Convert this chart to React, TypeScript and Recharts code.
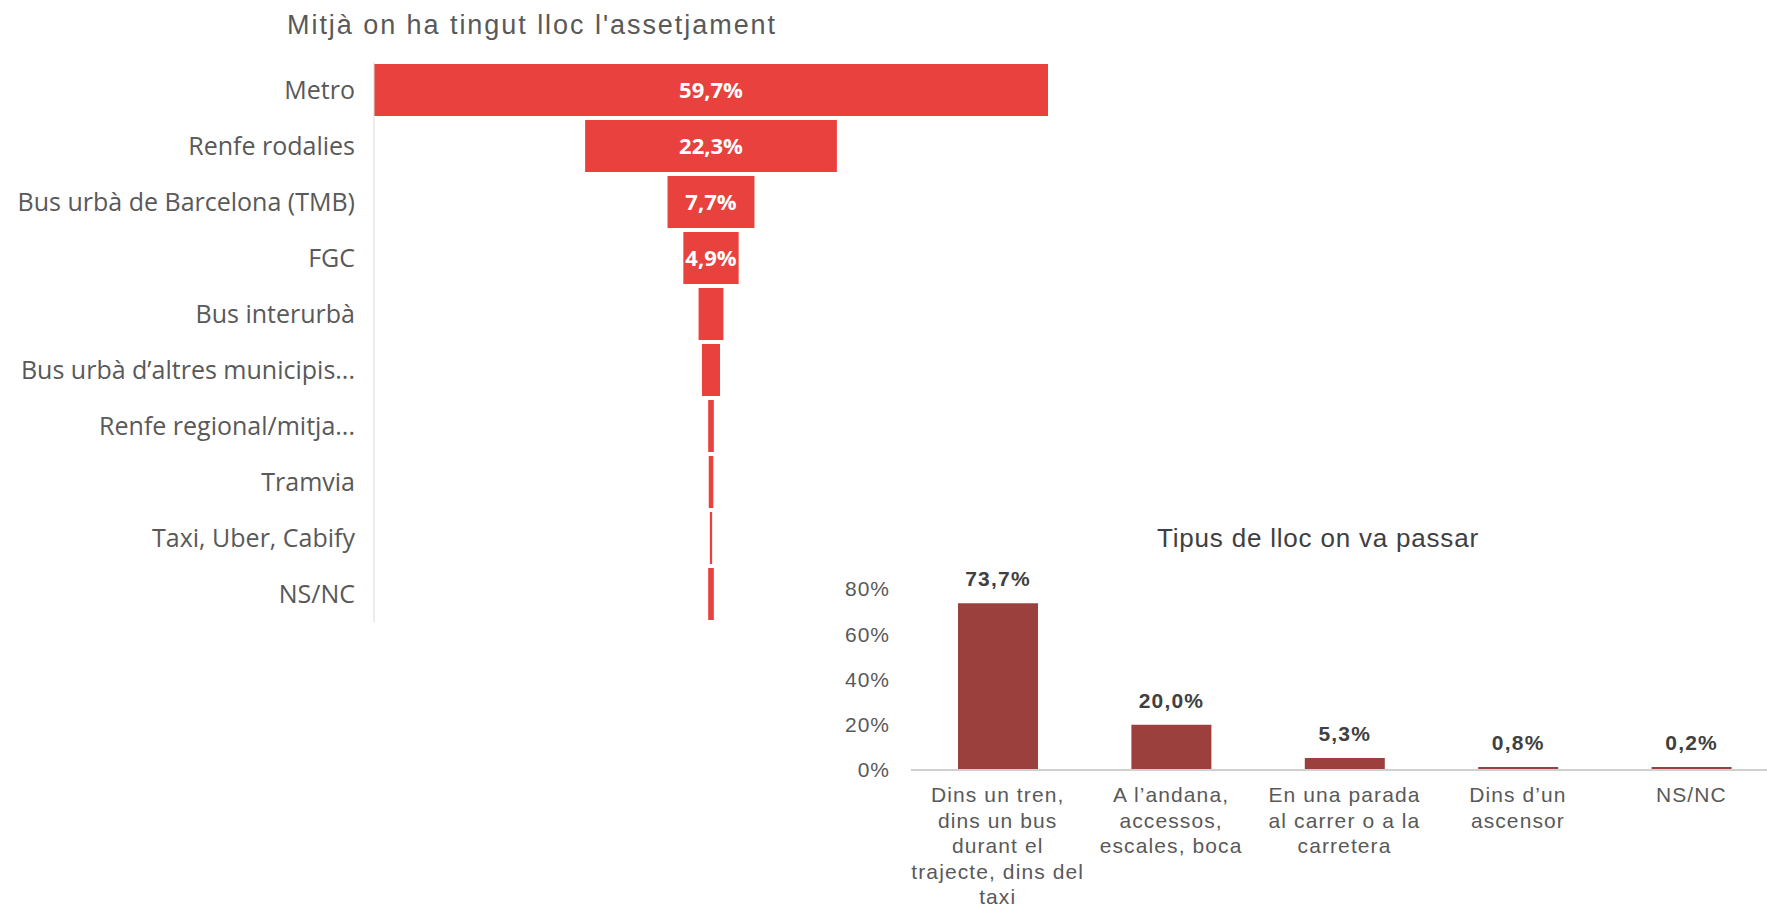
import React from "react";
import { BarChart, Bar, XAxis, YAxis, LabelList } from "recharts";

// Mitjà on ha tingut lloc l'assetjament
const funnelCategories = [
  "Metro",
  "Renfe rodalies",
  "Bus urbà de Barcelona (TMB)",
  "FGC",
  "Bus interurbà",
  "Bus urbà d’altres municipis...",
  "Renfe regional/mitja...",
  "Tramvia",
  "Taxi, Uber, Cabify",
  "NS/NC",
];
const funnelValues = [59.7, 22.3, 7.7, 4.9, 2.2, 1.6, 0.5, 0.4, 0.2, 0.5];

// Tipus de lloc on va passar
const placeCategories = [
  "Dins un tren,\ndins un bus\ndurant el\ntrajecte, dins del\ntaxi",
  "A l’andana,\naccessos,\nescales, boca",
  "En una parada\nal carrer o a la\ncarretera",
  "Dins d’un\nascensor",
  "NS/NC",
];
const placeValues = [73.7, 20.0, 5.3, 0.8, 0.2];
const placeTicks = [0, 20, 40, 60, 80];

const funnelMax = Math.max(...funnelValues);
const funnelData = funnelCategories.map((name, i) => ({
  name,
  value: funnelValues[i],
  pad: (funnelMax - funnelValues[i]) / 2,
}));
const placeData = placeCategories.map((name, i) => ({ name, value: placeValues[i] }));

const pct = (v: any) => `${Number(v).toFixed(1).replace(".", ",")}%`;

const PlaceTick = (props: any) => {
  const { x, y, payload } = props;
  const lines = String(payload.value).split("\n");
  return (
    <text
      x={x}
      y={y + 32}
      textAnchor="middle"
      fill="#595959"
      fontSize={21}
      letterSpacing={1.1}
      fontFamily="Liberation Sans, Arial, sans-serif"
    >
      {lines.map((l, i) => (
        <tspan key={i} x={x} dy={i === 0 ? 0 : 25.5}>
          {l}
        </tspan>
      ))}
    </text>
  );
};

export default function App() {
  return (
    <div
      style={{
        position: "absolute",
        left: 0,
        top: 0,
        width: 1767,
        height: 913,
        overflow: "hidden",
        background: "#fff",
      }}
    >
      <div
        style={{
          position: "absolute",
          left: 287,
          top: 10,
          fontFamily: "Liberation Sans, Arial, sans-serif",
          fontSize: 27,
          letterSpacing: 1.95,
          color: "#595959",
          whiteSpace: "nowrap",
        }}
      >
        Mitjà on ha tingut lloc l'assetjament
      </div>
      <div style={{ position: "absolute", left: 0, top: 0 }}>
        <BarChart
          layout="vertical"
          width={1100}
          height={640}
          data={funnelData}
          margin={{ top: 62, right: 52, bottom: 18, left: 0 }}
          barSize={52}
        >
          <XAxis type="number" hide domain={[0, funnelMax]} />
          <YAxis
            type="category"
            dataKey="name"
            width={374}
            axisLine={{ stroke: "#d9d9d9" }}
            tickLine={false}
            tickSize={0}
            tickMargin={19}
            interval={0}
            tick={{ fill: "#595959", fontSize: 25, fontFamily: "Open Sans, sans-serif" }}
          />
          <Bar dataKey="pad" stackId="f" fill="transparent" isAnimationActive={false} />
          <Bar dataKey="value" stackId="f" fill="#E8413E" isAnimationActive={false}>
            <LabelList
              dataKey="value"
              position="center"
              formatter={(v: any) => (v >= 4 ? pct(v) : "")}
              fill="#fff"
              fontSize={22}
              fontWeight="bold"
              fontFamily="Open Sans, sans-serif"
            />
          </Bar>
        </BarChart>
      </div>

      <div
        style={{
          position: "absolute",
          left: 1157,
          top: 523,
          fontFamily: "Liberation Sans, Arial, sans-serif",
          fontSize: 26,
          letterSpacing: 0.8,
          color: "#404040",
          whiteSpace: "nowrap",
        }}
      >
        Tipus de lloc on va passar
      </div>
      <div style={{ position: "absolute", left: 800, top: 480 }}>
        <BarChart
          width={980}
          height={430}
          data={placeData}
          margin={{ top: 109, right: 2, bottom: 0, left: 0 }}
          barSize={80}
        >
          <XAxis
            dataKey="name"
            height={140}
            interval={0}
            axisLine={{ stroke: "#d0d0d0", strokeWidth: 2 }}
            tickLine={false}
            tickSize={0}
            tickMargin={0}
            tick={<PlaceTick />}
          />
          <YAxis
            domain={[0, 80]}
            ticks={placeTicks}
            width={111}
            axisLine={false}
            tickLine={false}
            tickSize={0}
            tickMargin={21}
            tickFormatter={(v: number) => `${v}%`}
            tick={{
              fill: "#595959",
              fontSize: 21,
              letterSpacing: 1,
              fontFamily: "Liberation Sans, Arial, sans-serif",
            }}
          />
          <Bar dataKey="value" fill="#9B403D" minPointSize={3} isAnimationActive={false}>
            <LabelList
              dataKey="value"
              position="top"
              offset={17}
              formatter={pct}
              fill="#404040"
              fontSize={21}
              fontWeight="bold"
              letterSpacing={1.2}
              fontFamily="Liberation Sans, Arial, sans-serif"
            />
          </Bar>
        </BarChart>
      </div>
    </div>
  );
}
